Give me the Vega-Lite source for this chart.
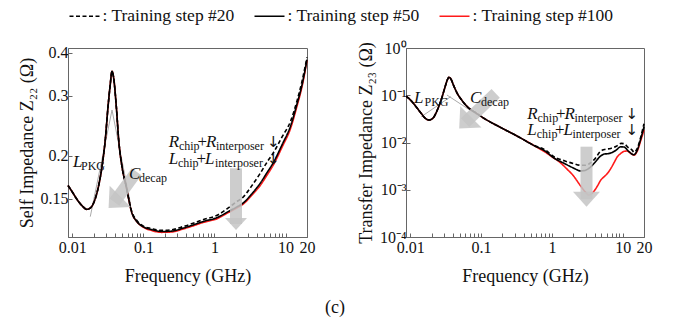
{
  "$schema": "https://vega.github.io/schema/vega-lite/v6.json",
  "padding": {"left": 17, "top": 0, "right": 5, "bottom": 5},
  "config": {
    "font": "Liberation Serif",
    "view": {"stroke": "#666", "strokeWidth": 1},
    "axis": {"labelFont": "Liberation Serif", "titleFont": "Liberation Serif", "labelFontSize": 16, "titleFontSize": 18, "titleFontWeight": "normal", "labelColor": "#111", "titleColor": "#111", "domainColor": "#666", "tickColor": "#666", "grid": false, "tickSize": -4, "labelPadding": 4, "labelOverlap": false, "labelFlush": false}
  },
  "datasets": {
    "left": [
      {"step": "#100", "f": 0.0087, "z": 0.164}, {"step": "#100", "f": 0.010, "z": 0.157}, {"step": "#100", "f": 0.012, "z": 0.148}, {"step": "#100", "f": 0.014, "z": 0.1425}, {"step": "#100", "f": 0.016, "z": 0.1397}, {"step": "#100", "f": 0.018, "z": 0.141}, {"step": "#100", "f": 0.020, "z": 0.146}, {"step": "#100", "f": 0.0235, "z": 0.164}, {"step": "#100", "f": 0.027, "z": 0.195}, {"step": "#100", "f": 0.0291, "z": 0.223}, {"step": "#100", "f": 0.0318, "z": 0.2785}, {"step": "#100", "f": 0.034, "z": 0.32}, {"step": "#100", "f": 0.0362, "z": 0.353}, {"step": "#100", "f": 0.038, "z": 0.34}, {"step": "#100", "f": 0.0416, "z": 0.2785}, {"step": "#100", "f": 0.0449, "z": 0.223}, {"step": "#100", "f": 0.050, "z": 0.186}, {"step": "#100", "f": 0.0569, "z": 0.164}, {"step": "#100", "f": 0.0692, "z": 0.136}, {"step": "#100", "f": 0.08, "z": 0.129},
      {"step": "#100", "f": 0.10, "z": 0.1238}, {"step": "#100", "f": 0.13, "z": 0.1212}, {"step": "#100", "f": 0.18, "z": 0.1197}, {"step": "#100", "f": 0.25, "z": 0.12}, {"step": "#100", "f": 0.366, "z": 0.1225}, {"step": "#100", "f": 0.5, "z": 0.125}, {"step": "#100", "f": 0.7, "z": 0.128}, {"step": "#100", "f": 1.07, "z": 0.131}, {"step": "#100", "f": 1.6, "z": 0.137}, {"step": "#100", "f": 2.0, "z": 0.1405}, {"step": "#100", "f": 2.56, "z": 0.145}, {"step": "#100", "f": 3.3, "z": 0.153}, {"step": "#100", "f": 4.4, "z": 0.164}, {"step": "#100", "f": 5.5, "z": 0.176}, {"step": "#100", "f": 6.8, "z": 0.189}, {"step": "#100", "f": 9.0, "z": 0.213}, {"step": "#100", "f": 11.7, "z": 0.24}, {"step": "#100", "f": 14.5, "z": 0.28}, {"step": "#100", "f": 17, "z": 0.318}, {"step": "#100", "f": 20, "z": 0.38},
      {"step": "#50", "f": 0.0087, "z": 0.164}, {"step": "#50", "f": 0.010, "z": 0.157}, {"step": "#50", "f": 0.012, "z": 0.148}, {"step": "#50", "f": 0.014, "z": 0.1425}, {"step": "#50", "f": 0.016, "z": 0.1397}, {"step": "#50", "f": 0.018, "z": 0.141}, {"step": "#50", "f": 0.020, "z": 0.146}, {"step": "#50", "f": 0.0235, "z": 0.164}, {"step": "#50", "f": 0.027, "z": 0.195}, {"step": "#50", "f": 0.0291, "z": 0.223}, {"step": "#50", "f": 0.0318, "z": 0.2785}, {"step": "#50", "f": 0.034, "z": 0.32}, {"step": "#50", "f": 0.0362, "z": 0.353}, {"step": "#50", "f": 0.038, "z": 0.34}, {"step": "#50", "f": 0.0416, "z": 0.2785}, {"step": "#50", "f": 0.0449, "z": 0.223}, {"step": "#50", "f": 0.050, "z": 0.186}, {"step": "#50", "f": 0.0569, "z": 0.164}, {"step": "#50", "f": 0.0692, "z": 0.136}, {"step": "#50", "f": 0.08, "z": 0.129},
      {"step": "#50", "f": 0.10, "z": 0.1242}, {"step": "#50", "f": 0.13, "z": 0.1219}, {"step": "#50", "f": 0.18, "z": 0.1204}, {"step": "#50", "f": 0.25, "z": 0.1207}, {"step": "#50", "f": 0.366, "z": 0.1232}, {"step": "#50", "f": 0.5, "z": 0.1258}, {"step": "#50", "f": 0.7, "z": 0.1288}, {"step": "#50", "f": 1.07, "z": 0.132}, {"step": "#50", "f": 1.6, "z": 0.138}, {"step": "#50", "f": 2.0, "z": 0.1415}, {"step": "#50", "f": 2.56, "z": 0.146}, {"step": "#50", "f": 3.3, "z": 0.1545}, {"step": "#50", "f": 4.4, "z": 0.1665}, {"step": "#50", "f": 5.5, "z": 0.179}, {"step": "#50", "f": 6.8, "z": 0.192}, {"step": "#50", "f": 9.0, "z": 0.2165}, {"step": "#50", "f": 11.7, "z": 0.244}, {"step": "#50", "f": 14.5, "z": 0.284}, {"step": "#50", "f": 17, "z": 0.322}, {"step": "#50", "f": 20, "z": 0.382},
      {"step": "#20", "f": 0.0087, "z": 0.164}, {"step": "#20", "f": 0.010, "z": 0.157}, {"step": "#20", "f": 0.012, "z": 0.148}, {"step": "#20", "f": 0.014, "z": 0.1425}, {"step": "#20", "f": 0.016, "z": 0.1397}, {"step": "#20", "f": 0.018, "z": 0.141}, {"step": "#20", "f": 0.020, "z": 0.146}, {"step": "#20", "f": 0.0235, "z": 0.164}, {"step": "#20", "f": 0.027, "z": 0.195}, {"step": "#20", "f": 0.0291, "z": 0.223}, {"step": "#20", "f": 0.0318, "z": 0.2785}, {"step": "#20", "f": 0.034, "z": 0.32}, {"step": "#20", "f": 0.0362, "z": 0.353}, {"step": "#20", "f": 0.038, "z": 0.34}, {"step": "#20", "f": 0.0416, "z": 0.2785}, {"step": "#20", "f": 0.0449, "z": 0.223}, {"step": "#20", "f": 0.050, "z": 0.186}, {"step": "#20", "f": 0.0569, "z": 0.164}, {"step": "#20", "f": 0.0692, "z": 0.137}, {"step": "#20", "f": 0.08, "z": 0.130},
      {"step": "#20", "f": 0.10, "z": 0.1248}, {"step": "#20", "f": 0.13, "z": 0.1228}, {"step": "#20", "f": 0.18, "z": 0.1213}, {"step": "#20", "f": 0.25, "z": 0.1218}, {"step": "#20", "f": 0.366, "z": 0.1245}, {"step": "#20", "f": 0.5, "z": 0.1272}, {"step": "#20", "f": 0.7, "z": 0.1305}, {"step": "#20", "f": 1.07, "z": 0.134}, {"step": "#20", "f": 1.6, "z": 0.1415}, {"step": "#20", "f": 2.0, "z": 0.1465}, {"step": "#20", "f": 2.56, "z": 0.152}, {"step": "#20", "f": 3.3, "z": 0.163}, {"step": "#20", "f": 4.4, "z": 0.178}, {"step": "#20", "f": 5.5, "z": 0.192}, {"step": "#20", "f": 6.8, "z": 0.205}, {"step": "#20", "f": 9.0, "z": 0.228}, {"step": "#20", "f": 11.7, "z": 0.252}, {"step": "#20", "f": 14.5, "z": 0.29}, {"step": "#20", "f": 17, "z": 0.33}, {"step": "#20", "f": 20, "z": 0.388}
    ],
    "right": [
      {"step": "#100", "f": 0.0087, "z": 0.096}, {"step": "#100", "f": 0.010, "z": 0.080}, {"step": "#100", "f": 0.012, "z": 0.058}, {"step": "#100", "f": 0.0145, "z": 0.040}, {"step": "#100", "f": 0.0165, "z": 0.032}, {"step": "#100", "f": 0.0184, "z": 0.030}, {"step": "#100", "f": 0.021, "z": 0.033}, {"step": "#100", "f": 0.024, "z": 0.048}, {"step": "#100", "f": 0.028, "z": 0.09}, {"step": "#100", "f": 0.031, "z": 0.15}, {"step": "#100", "f": 0.0335, "z": 0.215}, {"step": "#100", "f": 0.0352, "z": 0.24}, {"step": "#100", "f": 0.0375, "z": 0.22}, {"step": "#100", "f": 0.041, "z": 0.16}, {"step": "#100", "f": 0.046, "z": 0.11}, {"step": "#100", "f": 0.053, "z": 0.08}, {"step": "#100", "f": 0.064, "z": 0.057}, {"step": "#100", "f": 0.085, "z": 0.042}, {"step": "#100", "f": 0.11, "z": 0.0325}, {"step": "#100", "f": 0.2, "z": 0.0199}, {"step": "#100", "f": 0.325, "z": 0.0136}, {"step": "#100", "f": 0.56, "z": 0.0086},
      {"step": "#100", "f": 0.8, "z": 0.0063}, {"step": "#100", "f": 1.0, "z": 0.0050}, {"step": "#100", "f": 1.3, "z": 0.0038}, {"step": "#100", "f": 1.65, "z": 0.0027}, {"step": "#100", "f": 2.0, "z": 0.0020}, {"step": "#100", "f": 2.5, "z": 0.00125}, {"step": "#100", "f": 3.0, "z": 0.00088}, {"step": "#100", "f": 3.3, "z": 0.00077}, {"step": "#100", "f": 3.8, "z": 0.00088}, {"step": "#100", "f": 4.4, "z": 0.0012}, {"step": "#100", "f": 4.9, "z": 0.0016}, {"step": "#100", "f": 5.5, "z": 0.0019}, {"step": "#100", "f": 6.06, "z": 0.0022}, {"step": "#100", "f": 6.77, "z": 0.0028}, {"step": "#100", "f": 7.6, "z": 0.0038}, {"step": "#100", "f": 8.4, "z": 0.0050}, {"step": "#100", "f": 9.3, "z": 0.0058}, {"step": "#100", "f": 10.5, "z": 0.0065}, {"step": "#100", "f": 11.6, "z": 0.0066}, {"step": "#100", "f": 12.8, "z": 0.0060}, {"step": "#100", "f": 14.4, "z": 0.0054}, {"step": "#100", "f": 16, "z": 0.0065}, {"step": "#100", "f": 18, "z": 0.011}, {"step": "#100", "f": 20, "z": 0.0184},
      {"step": "#50", "f": 0.0087, "z": 0.096}, {"step": "#50", "f": 0.010, "z": 0.080}, {"step": "#50", "f": 0.012, "z": 0.058}, {"step": "#50", "f": 0.0145, "z": 0.040}, {"step": "#50", "f": 0.0165, "z": 0.032}, {"step": "#50", "f": 0.0184, "z": 0.030}, {"step": "#50", "f": 0.021, "z": 0.033}, {"step": "#50", "f": 0.024, "z": 0.048}, {"step": "#50", "f": 0.028, "z": 0.09}, {"step": "#50", "f": 0.031, "z": 0.15}, {"step": "#50", "f": 0.0335, "z": 0.215}, {"step": "#50", "f": 0.0352, "z": 0.24}, {"step": "#50", "f": 0.0375, "z": 0.22}, {"step": "#50", "f": 0.041, "z": 0.16}, {"step": "#50", "f": 0.046, "z": 0.11}, {"step": "#50", "f": 0.053, "z": 0.08}, {"step": "#50", "f": 0.064, "z": 0.057}, {"step": "#50", "f": 0.085, "z": 0.042}, {"step": "#50", "f": 0.11, "z": 0.0325}, {"step": "#50", "f": 0.2, "z": 0.0199}, {"step": "#50", "f": 0.325, "z": 0.0136}, {"step": "#50", "f": 0.56, "z": 0.0086},
      {"step": "#50", "f": 0.8, "z": 0.0066}, {"step": "#50", "f": 1.07, "z": 0.0047}, {"step": "#50", "f": 1.5, "z": 0.0036}, {"step": "#50", "f": 2.0, "z": 0.0029}, {"step": "#50", "f": 2.55, "z": 0.0025}, {"step": "#50", "f": 3.0, "z": 0.0026}, {"step": "#50", "f": 3.5, "z": 0.0030}, {"step": "#50", "f": 4.0, "z": 0.0037}, {"step": "#50", "f": 4.9, "z": 0.0052}, {"step": "#50", "f": 5.5, "z": 0.0057}, {"step": "#50", "f": 6.2, "z": 0.0058}, {"step": "#50", "f": 7.0, "z": 0.0061}, {"step": "#50", "f": 8.0, "z": 0.0068}, {"step": "#50", "f": 9.35, "z": 0.0081}, {"step": "#50", "f": 10.5, "z": 0.0080}, {"step": "#50", "f": 12, "z": 0.0066}, {"step": "#50", "f": 14.4, "z": 0.0055}, {"step": "#50", "f": 16, "z": 0.0068}, {"step": "#50", "f": 18, "z": 0.012}, {"step": "#50", "f": 20, "z": 0.0216},
      {"step": "#20", "f": 0.0087, "z": 0.096}, {"step": "#20", "f": 0.010, "z": 0.080}, {"step": "#20", "f": 0.012, "z": 0.058}, {"step": "#20", "f": 0.0145, "z": 0.040}, {"step": "#20", "f": 0.0165, "z": 0.032}, {"step": "#20", "f": 0.0184, "z": 0.030}, {"step": "#20", "f": 0.021, "z": 0.033}, {"step": "#20", "f": 0.024, "z": 0.048}, {"step": "#20", "f": 0.028, "z": 0.09}, {"step": "#20", "f": 0.031, "z": 0.15}, {"step": "#20", "f": 0.0335, "z": 0.215}, {"step": "#20", "f": 0.0352, "z": 0.24}, {"step": "#20", "f": 0.0375, "z": 0.22}, {"step": "#20", "f": 0.041, "z": 0.16}, {"step": "#20", "f": 0.046, "z": 0.11}, {"step": "#20", "f": 0.053, "z": 0.08}, {"step": "#20", "f": 0.064, "z": 0.057}, {"step": "#20", "f": 0.085, "z": 0.042}, {"step": "#20", "f": 0.11, "z": 0.0325}, {"step": "#20", "f": 0.2, "z": 0.0199}, {"step": "#20", "f": 0.325, "z": 0.0137}, {"step": "#20", "f": 0.56, "z": 0.0087},
      {"step": "#20", "f": 0.8, "z": 0.0070}, {"step": "#20", "f": 1.07, "z": 0.0050}, {"step": "#20", "f": 1.5, "z": 0.0041}, {"step": "#20", "f": 2.0, "z": 0.0036}, {"step": "#20", "f": 2.55, "z": 0.0033}, {"step": "#20", "f": 3.0, "z": 0.0033}, {"step": "#20", "f": 3.5, "z": 0.0037}, {"step": "#20", "f": 4.0, "z": 0.0044}, {"step": "#20", "f": 4.9, "z": 0.0066}, {"step": "#20", "f": 5.5, "z": 0.0071}, {"step": "#20", "f": 6.77, "z": 0.0075}, {"step": "#20", "f": 8.0, "z": 0.0082}, {"step": "#20", "f": 9.5, "z": 0.0096}, {"step": "#20", "f": 10.5, "z": 0.0094}, {"step": "#20", "f": 12, "z": 0.0078}, {"step": "#20", "f": 13.7, "z": 0.0068}, {"step": "#20", "f": 14.4, "z": 0.0062}, {"step": "#20", "f": 16, "z": 0.0074}, {"step": "#20", "f": 18, "z": 0.013}, {"step": "#20", "f": 20, "z": 0.025}
    ]
  },
  "resolve": {"scale": {"x": "independent", "y": "independent", "color": "shared", "strokeDash": "shared"}},
  "spacing": 40,
  "title": {"text": "(c)", "orient": "bottom", "anchor": "middle", "font": "Liberation Serif", "fontSize": 18, "fontWeight": "normal", "color": "#111", "offset": 13},
  "hconcat": [
    {
      "width": 239,
      "height": 189,
      "encoding": {
        "x": {"field": "f", "type": "quantitative", "scale": {"type": "log", "domain": [0.0087, 20], "nice": false}, "axis": {"title": "Frequency (GHz)", "values": [0.01, 0.02, 0.03, 0.04, 0.05, 0.06, 0.07, 0.08, 0.09, 0.1, 0.2, 0.3, 0.4, 0.5, 0.6, 0.7, 0.8, 0.9, 1, 2, 3, 4, 5, 6, 7, 8, 9, 10, 20], "labelExpr": "datum.value == 0.01 ? '0.01' : datum.value == 0.1 ? '0.1' : datum.value == 1 ? '1' : datum.value == 10 ? '10' : datum.value == 20 ? '20' : ''", "labelPadding": 6, "titlePadding": 12}},
        "y": {"field": "z", "type": "quantitative", "scale": {"type": "log", "domain": [0.116, 0.413], "nice": false}, "axis": {"title": "Self Impedance Z₂₂ (Ω)", "values": [0.15, 0.2, 0.3, 0.4], "labelExpr": "datum.value == 0.15 ? '0.15' : datum.value == 0.2 ? '0.2' : datum.value == 0.3 ? '0.3' : datum.value == 0.4 ? '0.4' : ''", "titlePadding": 4}}
      },
      "layer": [
        {
          "data": {"values": [{"f": 0.0179, "z": 0.133, "f2": 0.0362, "z2": 0.2723}, {"f": 0.0362, "z": 0.2723, "f2": 0.0654, "z2": 0.1458}]},
          "mark": {"type": "rule", "color": "#aaaaaa", "strokeWidth": 1},
          "encoding": {"x2": {"field": "f2"}, "y2": {"field": "z2"}}
        },
        {
          "data": {"name": "left"},
          "mark": {"type": "line", "strokeWidth": 1.6, "interpolate": "monotone"},
          "encoding": {
            "color": {"field": "step", "type": "nominal", "scale": {"domain": ["#20", "#50", "#100"], "range": ["black", "black", "#ff1a1a"]}, "legend": {"orient": "none", "legendX": 0.5, "legendY": -48, "direction": "horizontal", "title": null, "symbolType": "stroke", "symbolSize": 900, "symbolStrokeWidth": 1.5, "labelFont": "Liberation Serif", "labelFontSize": 17.5, "labelColor": "#111", "labelExpr": "': Training step ' + datum.label", "labelOffset": 2, "columnPadding": 16, "labelLimit": 300}},
            "strokeDash": {"field": "step", "type": "nominal", "scale": {"domain": ["#20", "#50", "#100"], "range": [[4, 2.5], [1, 0], [1, 0]]}, "legend": {"orient": "none", "legendX": 0.5, "legendY": -48, "direction": "horizontal", "title": null, "symbolType": "stroke", "symbolSize": 900, "symbolStrokeWidth": 1.5, "labelFont": "Liberation Serif", "labelFontSize": 17.5, "labelColor": "#111", "labelExpr": "': Training step ' + datum.label", "labelOffset": 2, "columnPadding": 16, "labelLimit": 300}}
          }
        },
        {
          "data": {"values": [{"f": 0.0802, "z": 0.1799, "f2": 0.0391, "z2": 0.1466}, {"f": 2.006, "z": 0.184, "f2": 2.006, "z2": 0.1266}]},
          "mark": {"type": "rule", "color": "#c4c4c4", "strokeWidth": 12, "opacity": 0.85},
          "encoding": {"x2": {"field": "f2"}, "y2": {"field": "z2"}}
        },
        {
          "data": {"values": [{"f": 0.0391, "z": 0.1466}]},
          "mark": {"type": "point", "shape": "M-1,-0.55L1,-0.55L0,0.55Z", "size": 900, "angle": 45, "filled": true, "color": "#c4c4c4", "opacity": 0.85}
        },
        {
          "data": {"values": [{"f": 2.006, "z": 0.1266}]},
          "mark": {"type": "point", "shape": "M-1,-0.55L1,-0.55L0,0.55Z", "size": 484, "filled": true, "color": "#c4c4c4", "opacity": 0.85}
        },
        {
          "data": {"values": [{"f": 0.01023, "z": 0.1857, "t": "L"}, {"f": 0.06272, "z": 0.1713, "t": "C"}, {"f": 0.2269, "z": 0.2128, "t": "R"}, {"f": 0.757, "z": 0.2128, "t": "R"}, {"f": 0.2269, "z": 0.1895, "t": "L"}, {"f": 0.7328, "z": 0.1895, "t": "L"}]},
          "mark": {"type": "text", "align": "left", "baseline": "alphabetic", "font": "Liberation Serif", "fontSize": 17, "fontStyle": "italic", "color": "#111"},
          "encoding": {"text": {"field": "t"}}
        },
        {
          "data": {"values": [{"f": 0.5747, "z": 0.2128, "t": "+"}, {"f": 0.5565, "z": 0.1895, "t": "+"}]},
          "mark": {"type": "text", "align": "left", "baseline": "alphabetic", "font": "Liberation Serif", "fontSize": 17, "color": "#111"},
          "encoding": {"text": {"field": "t"}}
        },
        {
          "data": {"values": [{"f": 5.458, "z": 0.2128, "t": "↓"}, {"f": 5.458, "z": 0.1895, "t": "↓"}]},
          "mark": {"type": "text", "align": "left", "baseline": "alphabetic", "font": "DejaVu Sans", "fontSize": 15, "color": "#111"},
          "encoding": {"text": {"field": "t"}}
        },
        {
          "data": {"values": [{"f": 0.01326, "z": 0.182, "t": "PKG"}, {"f": 0.0867, "z": 0.1679, "t": "decap"}, {"f": 0.3157, "z": 0.2086, "t": "chip"}, {"f": 1.0464, "z": 0.2086, "t": "interposer"}, {"f": 0.3056, "z": 0.1857, "t": "chip"}, {"f": 1.013, "z": 0.1857, "t": "interposer"}]},
          "mark": {"type": "text", "align": "left", "baseline": "alphabetic", "font": "Liberation Serif", "fontSize": 12, "color": "#111"},
          "encoding": {"text": {"field": "t"}}
        }
      ]
    },
    {
      "width": 238,
      "height": 189,
      "encoding": {
        "x": {"field": "f", "type": "quantitative", "scale": {"type": "log", "domain": [0.0087, 20], "nice": false}, "axis": {"title": "Frequency (GHz)", "values": [0.01, 0.02, 0.03, 0.04, 0.05, 0.06, 0.07, 0.08, 0.09, 0.1, 0.2, 0.3, 0.4, 0.5, 0.6, 0.7, 0.8, 0.9, 1, 2, 3, 4, 5, 6, 7, 8, 9, 10, 20], "labelExpr": "datum.value == 0.01 ? '0.01' : datum.value == 0.1 ? '0.1' : datum.value == 1 ? '1' : datum.value == 10 ? '10' : datum.value == 20 ? '20' : ''", "labelPadding": 6, "titlePadding": 12}},
        "y": {"field": "z", "type": "quantitative", "scale": {"type": "log", "domain": [0.0001, 1], "nice": false}, "axis": {"title": "Transfer Impedance Z₂₃ (Ω)", "values": [0.0001, 0.001, 0.01, 0.1, 1], "labelExpr": "datum.value == 1 ? '10⁰' : datum.value == 0.1 ? '10⁻¹' : datum.value == 0.01 ? '10⁻²' : datum.value == 0.001 ? '10⁻³' : datum.value == 0.0001 ? '10⁻⁴' : ''", "titlePadding": 4}}
      },
      "layer": [
        {
          "data": {"values": [{"f": 0.0143, "z": 0.0352, "f2": 0.0372, "z2": 0.0932}, {"f": 0.033, "z": 0.101, "f2": 0.0884, "z2": 0.0382}]},
          "mark": {"type": "rule", "color": "#aaaaaa", "strokeWidth": 1},
          "encoding": {"x2": {"field": "f2"}, "y2": {"field": "z2"}}
        },
        {
          "data": {"name": "right"},
          "mark": {"type": "line", "strokeWidth": 1.6, "interpolate": "monotone"},
          "encoding": {
            "color": {"field": "step", "type": "nominal", "scale": {"domain": ["#20", "#50", "#100"], "range": ["black", "black", "#ff1a1a"]}, "legend": {"orient": "none", "legendX": 0.5, "legendY": -48, "direction": "horizontal", "title": null, "symbolType": "stroke", "symbolSize": 900, "symbolStrokeWidth": 1.5, "labelFont": "Liberation Serif", "labelFontSize": 17.5, "labelColor": "#111", "labelExpr": "': Training step ' + datum.label", "labelOffset": 2, "columnPadding": 16, "labelLimit": 300}},
            "strokeDash": {"field": "step", "type": "nominal", "scale": {"domain": ["#20", "#50", "#100"], "range": [[4, 2.5], [1, 0], [1, 0]]}, "legend": {"orient": "none", "legendX": 0.5, "legendY": -48, "direction": "horizontal", "title": null, "symbolType": "stroke", "symbolSize": 900, "symbolStrokeWidth": 1.5, "labelFont": "Liberation Serif", "labelFontSize": 17.5, "labelColor": "#111", "labelExpr": "': Training step ' + datum.label", "labelOffset": 2, "columnPadding": 16, "labelLimit": 300}}
          }
        },
        {
          "data": {"values": [{"f": 0.1608, "z": 0.11, "f2": 0.0593, "z2": 0.02637}, {"f": 3.081, "z": 0.00815, "f2": 3.081, "z2": 0.000628}]},
          "mark": {"type": "rule", "color": "#c4c4c4", "strokeWidth": 12, "opacity": 0.85},
          "encoding": {"x2": {"field": "f2"}, "y2": {"field": "z2"}}
        },
        {
          "data": {"values": [{"f": 0.0593, "z": 0.02637}]},
          "mark": {"type": "point", "shape": "M-1,-0.55L1,-0.55L0,0.55Z", "size": 900, "angle": 45, "filled": true, "color": "#c4c4c4", "opacity": 0.85}
        },
        {
          "data": {"values": [{"f": 3.081, "z": 0.000628}]},
          "mark": {"type": "point", "shape": "M-1,-0.55L1,-0.55L0,0.55Z", "size": 729, "filled": true, "color": "#c4c4c4", "opacity": 0.85}
        },
        {
          "data": {"values": [{"f": 0.01129, "z": 0.0669, "t": "L"}, {"f": 0.0697, "z": 0.0669, "t": "C"}, {"f": 0.4494, "z": 0.03144, "t": "R"}, {"f": 1.5066, "z": 0.03144, "t": "R"}, {"f": 0.4494, "z": 0.01441, "t": "L"}, {"f": 1.458, "z": 0.01441, "t": "L"}]},
          "mark": {"type": "text", "align": "left", "baseline": "alphabetic", "font": "Liberation Serif", "fontSize": 17, "fontStyle": "italic", "color": "#111"},
          "encoding": {"text": {"field": "t"}}
        },
        {
          "data": {"values": [{"f": 1.1429, "z": 0.03144, "t": "+"}, {"f": 1.106, "z": 0.01441, "t": "+"}]},
          "mark": {"type": "text", "align": "left", "baseline": "alphabetic", "font": "Liberation Serif", "fontSize": 17, "color": "#111"},
          "encoding": {"text": {"field": "t"}}
        },
        {
          "data": {"values": [{"f": 10.95, "z": 0.03144, "t": "↓"}, {"f": 10.95, "z": 0.01441, "t": "↓"}]},
          "mark": {"type": "text", "align": "left", "baseline": "alphabetic", "font": "DejaVu Sans", "fontSize": 15, "color": "#111"},
          "encoding": {"text": {"field": "t"}}
        },
        {
          "data": {"values": [{"f": 0.01588, "z": 0.0578, "t": "PKG"}, {"f": 0.0997, "z": 0.0578, "t": "decap"}, {"f": 0.6261, "z": 0.02716, "t": "chip"}, {"f": 2.0855, "z": 0.02716, "t": "interposer"}, {"f": 0.612, "z": 0.01245, "t": "chip"}, {"f": 1.954, "z": 0.01245, "t": "interposer"}]},
          "mark": {"type": "text", "align": "left", "baseline": "alphabetic", "font": "Liberation Serif", "fontSize": 12, "color": "#111"},
          "encoding": {"text": {"field": "t"}}
        }
      ]
    }
  ]
}
